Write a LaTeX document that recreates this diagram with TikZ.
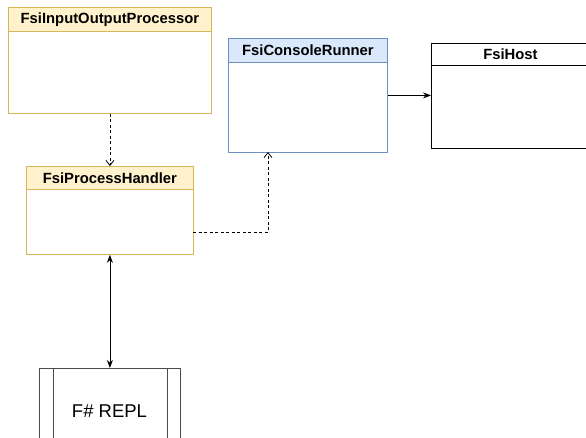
\documentclass[tikz,border=0pt]{standalone}
\usepackage{fontspec}
\setmainfont{Liberation Sans}
\usetikzlibrary{arrows.meta}
\definecolor{yelfill}{HTML}{FFF2CC}
\definecolor{yeldraw}{HTML}{D6B656}
\definecolor{bluefill}{HTML}{DAE8FC}
\definecolor{bluedraw}{HTML}{6C8EBF}
\tikzset{
  classbody/.style={draw, fill=white, line width=0.8pt, anchor=north west, inner sep=0pt},
  classhdr/.style={draw, line width=0.8pt, anchor=north west, inner sep=0pt, font=\bfseries\fontsize{14.8}{16}\selectfont},
  yel/.style={draw=yeldraw, fill=yelfill},
  blu/.style={draw=bluedraw, fill=bluefill},
  depline/.style={dash pattern=on 3pt off 2.5pt, line width=0.8pt, -{Straight Barb[length=5pt,width=8pt]}},
  solidarrow/.style={line width=0.8pt, -{Stealth[length=8pt,width=6pt]}},
  bothsolid/.style={line width=0.8pt, {Stealth[length=8pt,width=6pt]}-{Stealth[length=8pt,width=6pt]}}
}
\begin{document}
\begin{tikzpicture}[x=1pt,y=-1pt]
\useasboundingbox (0,0) rectangle (586,437);
\clip (0,0) rectangle (586,437);
\fill[white] (0,0) rectangle (586,437);
% FsiInputOutputProcessor
\node[classbody, draw=yeldraw, minimum width=203pt, minimum height=106pt] (iop) at (8,7) {};
\node[classhdr, yel, minimum width=203pt, minimum height=24pt] (iophdr) at (8,7) {FsiInputOutputProcessor};
% FsiConsoleRunner
\node[classbody, draw=bluedraw, minimum width=159pt, minimum height=114pt] (cr) at (228,38) {};
\node[classhdr, blu, minimum width=159pt, minimum height=24pt] (crhdr) at (228,38) {FsiConsoleRunner};
% FsiHost
\node[classbody, draw=black, minimum width=158pt, minimum height=105pt] (host) at (431,43) {};
\node[classhdr, draw=black, fill=white, minimum width=158pt, minimum height=22pt] (hosthdr) at (431,43) {FsiHost};
% FsiProcessHandler
\node[classbody, draw=yeldraw, minimum width=167pt, minimum height=88pt] (ph) at (26,166) {};
\node[classhdr, yel, minimum width=167pt, minimum height=23pt] (phhdr) at (26,166) {FsiProcessHandler};
% F# REPL
\node[draw=black!70, line width=0.8pt, fill=white, minimum width=141pt, minimum height=86pt, anchor=north west, inner sep=0pt] (repl) at (39,368) {};
\draw[black!70, line width=0.8pt] ([xshift=14pt]repl.north west) -- ([xshift=14pt]repl.south west);
\draw[black!70, line width=0.8pt] ([xshift=-13pt]repl.north east) -- ([xshift=-13pt]repl.south east);
\node[font=\fontsize{18.5}{21}\selectfont, inner sep=0pt] (repltxt) at (109.5,411) {F\# REPL};
% connectors
\coordinate (phout) at (193,232);
\coordinate (crin) at (268,152);
\draw[depline] (iop.south) -- (phhdr.north);
\draw[depline] (phout) -| (crin);
\draw[solidarrow] (cr.east) -- (host.west |- cr.east);
\draw[bothsolid] (ph.south) -- (repl.north);
\end{tikzpicture}
\end{document}
